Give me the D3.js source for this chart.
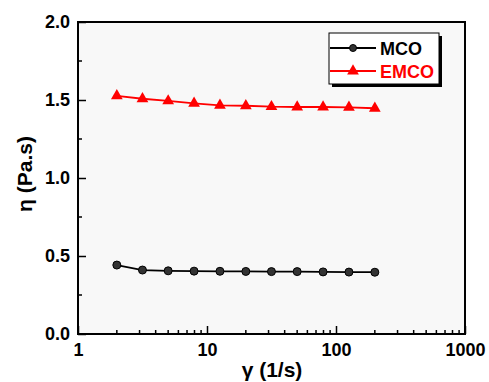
<!DOCTYPE html>
<html><head><meta charset="utf-8">
<script src="https://cdn.jsdelivr.net/npm/d3@7"></script>
<style>body{margin:0;background:#fff}svg{display:block}text{font-family:"Liberation Sans",Arial,sans-serif;font-weight:bold}</style>
</head><body><svg id="c" width="489" height="382"></svg>
<script>
const shearRate = [2, 3.16, 5, 7.94, 12.6, 20, 31.6, 50, 79.4, 126, 200];
const mco  = [0.442, 0.41, 0.405, 0.403, 0.402, 0.401, 0.400, 0.400, 0.398, 0.397, 0.396];
const emco = [1.527, 1.508, 1.494, 1.479, 1.466, 1.463, 1.457, 1.455, 1.455, 1.453, 1.447];
const xTicks = [1, 10, 100, 1000];
const yTicks = [0, 0.5, 1.0, 1.5, 2.0];
const seriesNames = ["MCO", "EMCO"];

const svg = d3.select("#c");
const L = 78, R = 465, T = 22, B = 334;
const x = d3.scaleLog().domain([1, 1000]).range([L, R]);
const y = d3.scaleLinear().domain([0, 2]).range([B, T]);

svg.append("rect").attr("x", L).attr("y", T).attr("width", R - L).attr("height", B - T).attr("fill", "#f8f8f8");

// minor x ticks
const minorX = [];
for (let d = 1; d < 1000; d *= 10) for (let k = 2; k <= 9; k++) minorX.push(d * k);
svg.append("g").selectAll("line").data(minorX).join("line")
  .attr("x1", d => x(d)).attr("x2", d => x(d)).attr("y1", B).attr("y2", B - 4)
  .attr("stroke", "#000").attr("stroke-width", 1.5);
const minorY = [0.25, 0.75, 1.25, 1.75];
svg.append("g").selectAll("line").data(minorY).join("line")
  .attr("x1", L).attr("x2", L + 4).attr("y1", d => y(d)).attr("y2", d => y(d))
  .attr("stroke", "#000").attr("stroke-width", 1.5);

const xAxis = svg.append("g").attr("transform", `translate(0,${B})`)
  .call(d3.axisBottom(x).tickValues(xTicks).tickFormat(d3.format("d")).tickSizeInner(-8).tickSizeOuter(0).tickPadding(9));
const yAxis = svg.append("g").attr("transform", `translate(${L},0)`)
  .call(d3.axisLeft(y).tickValues(yTicks).tickFormat(d3.format(".1f")).tickSizeInner(-8).tickSizeOuter(0).tickPadding(8));
[xAxis, yAxis].forEach(g => {
  g.selectAll("path").remove();
  g.selectAll("line").attr("stroke", "#000").attr("stroke-width", 1.5);
  g.selectAll("text").attr("font-size", 18).attr("fill", "#000").style("font-family", '"Liberation Sans",Arial,sans-serif').style("font-weight", "bold");
});
xAxis.selectAll("text").attr("dy", "0.71em");

// frame
svg.append("rect").attr("x", L).attr("y", T).attr("width", R - L).attr("height", B - T)
  .attr("fill", "none").attr("stroke", "#000").attr("stroke-width", 2);

const line = d3.line().x((d, i) => x(shearRate[i])).y(d => y(d));
const tri = d3.symbol().type(d3.symbolTriangle).size(60);

// MCO
svg.append("path").attr("d", line(mco)).attr("fill", "none").attr("stroke", "#000").attr("stroke-width", 1.8);
svg.append("g").selectAll("circle").data(mco).join("circle")
  .attr("cx", (d, i) => x(shearRate[i])).attr("cy", d => y(d)).attr("r", 4)
  .attr("fill", "#333").attr("stroke", "#000").attr("stroke-width", 1);
// EMCO
svg.append("path").attr("d", line(emco)).attr("fill", "none").attr("stroke", "#ff0000").attr("stroke-width", 1.8);
svg.append("g").selectAll("path.t").data(emco).join("path").attr("class", "t")
  .attr("d", tri).attr("transform", (d, i) => `translate(${x(shearRate[i])},${y(d)})`)
  .attr("fill", "#ff0000");

// legend
const lg = svg.append("g");
lg.append("rect").attr("x", 332).attr("y", 36).attr("width", 110).attr("height", 51).attr("fill", "#000");
lg.append("rect").attr("x", 329).attr("y", 33).attr("width", 110).attr("height", 51).attr("fill", "#fff").attr("stroke", "#000").attr("stroke-width", 1);
const lgY = [48, 71];
const colors = ["#000", "#ff0000"];
seriesNames.forEach((n, i) => {
  lg.append("line").attr("x1", 330).attr("x2", 376).attr("y1", lgY[i]).attr("y2", lgY[i]).attr("stroke", colors[i]).attr("stroke-width", 1.8);
  if (i === 0) lg.append("circle").attr("cx", 353).attr("cy", lgY[i]).attr("r", 3.5).attr("fill", "#333").attr("stroke", "#000");
  else lg.append("path").attr("d", tri).attr("transform", `translate(353,${lgY[i]})`).attr("fill", "#ff0000");
  lg.append("text").attr("x", 380).attr("y", lgY[i] + 6.5).attr("font-size", 18).attr("fill", colors[i]).text(n);
});

// axis labels
svg.append("text").attr("x", 272).attr("y", 377).attr("text-anchor", "middle").attr("font-size", 21).text("γ (1/s)");
svg.append("text").attr("transform", "translate(32,174) rotate(-90)").attr("text-anchor", "middle").attr("font-size", 21).text("η (Pa.s)");
</script></body></html>
